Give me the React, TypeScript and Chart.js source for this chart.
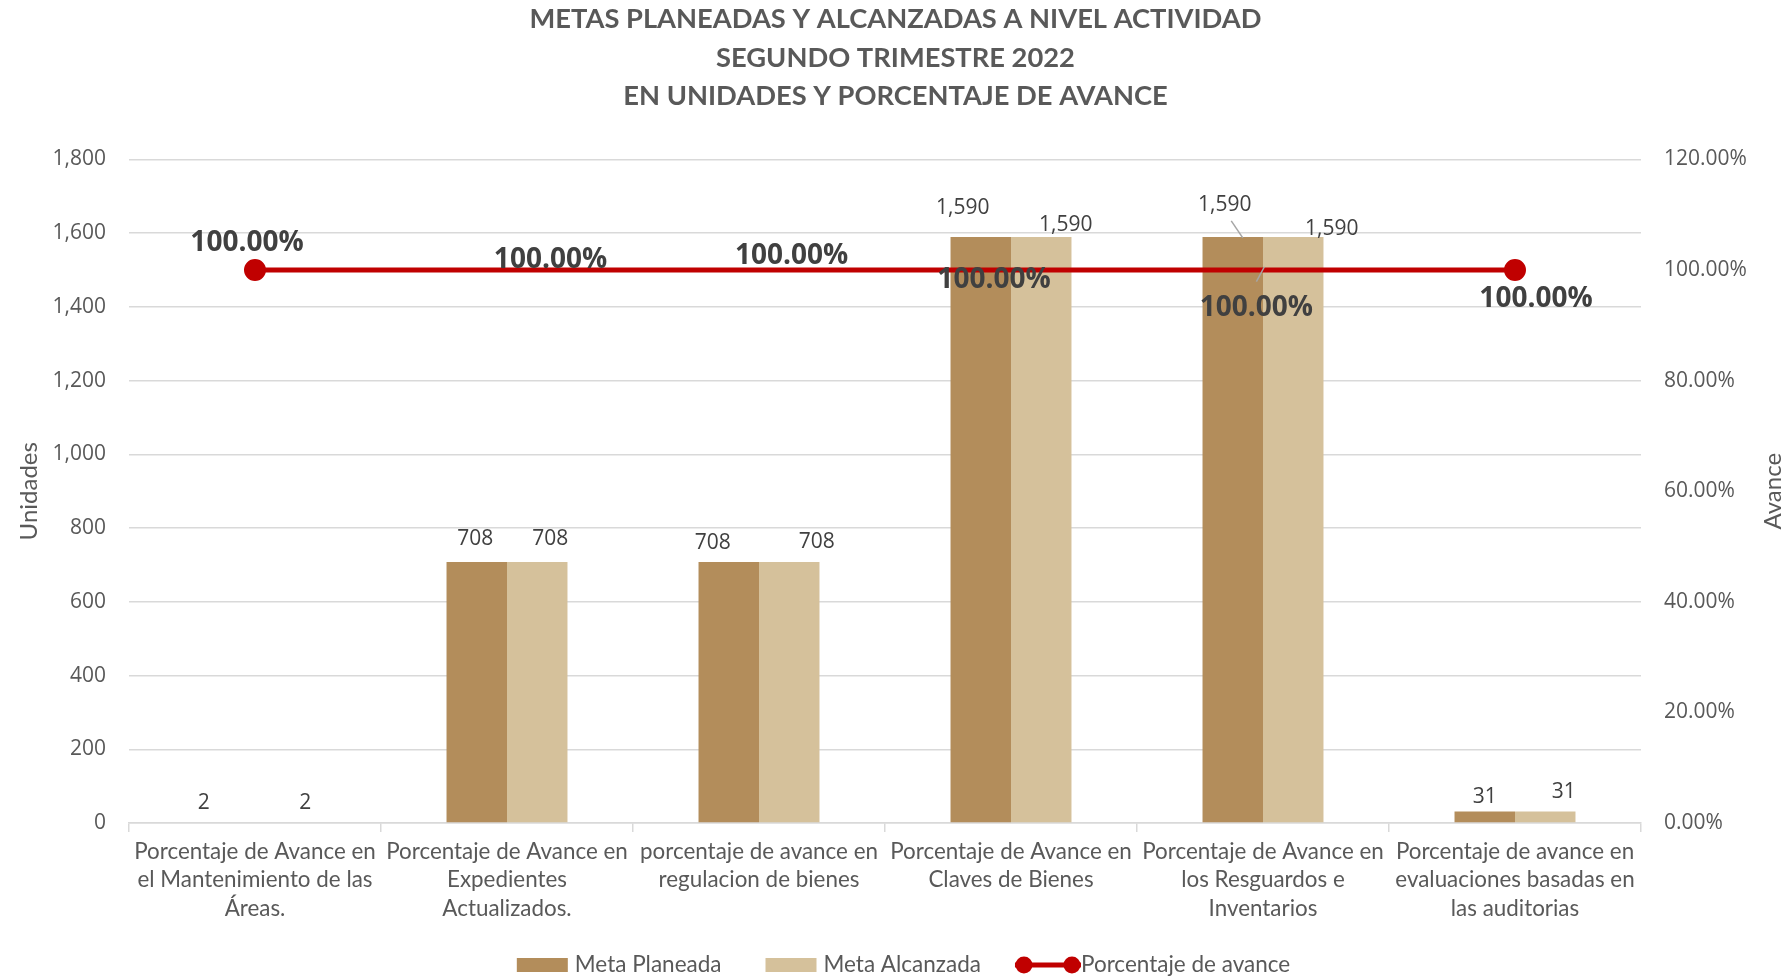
import React, { useEffect, useRef } from 'react';
import { Chart, registerables } from 'chart.js';

Chart.register(...registerables);

// ---------- DATA ----------
const categories: string[][] = [
  ['Porcentaje de Avance en', 'el Mantenimiento de las', 'Áreas.'],
  ['Porcentaje de Avance en', 'Expedientes', 'Actualizados.'],
  ['porcentaje de avance en', 'regulacion de bienes'],
  ['Porcentaje de Avance en', 'Claves de Bienes'],
  ['Porcentaje de Avance en', 'los Resguardos e', 'Inventarios'],
  ['Porcentaje de avance en', 'evaluaciones basadas en', 'las auditorias'],
];
const metaPlaneada = [2, 708, 708, 1590, 1590, 31];
const metaAlcanzada = [2, 708, 708, 1590, 1590, 31];
const porcentajeAvance = [100, 100, 100, 100, 100, 100];
const seriesNames = ['Meta Planeada', 'Meta Alcanzada', 'Porcentaje de avance'];
const titleLines = [
  'METAS PLANEADAS Y ALCANZADAS A NIVEL ACTIVIDAD',
  'SEGUNDO TRIMESTRE 2022',
  'EN UNIDADES Y PORCENTAJE DE AVANCE',
];
const leftAxisTitle = 'Unidades';
const rightAxisTitle = 'Avance';

// ---------- STYLE ----------
const COL_PLAN = '#B38D5B';
const COL_ALC = '#D5C19B';
const COL_LINE = '#C00000';
const TXT = '#595959';
const LABEL_TXT = '#404040';
const CAL = 'Lato, "Open Sans", sans-serif';
const SEG = '"Open Sans", "Noto Sans", sans-serif';

// label offsets (dx, dy) relative to the mark's anchor (style only)
const planOffsets = [[-21, -19], [-1.5, -23], [-16, -18.5], [-18, -28.5], [-8, -32], [0, -15]];
const alcOffsets = [[20, -19], [13, -23], [27.5, -19.5], [24.5, -11.5], [38.5, -8], [18.5, -19.5]];
const pctOffsets = [[-8, -27], [43.5, -10], [32.6, -13.6], [-17, 10.4], [-6.6, 38], [21, 29]];
// leader lines: [datasetIndex, category, x1, y1, x2, y2] relative to anchor
const leaders = [
  [0, 4, -1.5, -16, 10, 1],
  [2, 4, 1.4, -3.3, -6.6, 11.5],
];

const fmtInt = (v: number) => v.toLocaleString('en-US');

const labelsPlugin = {
  id: 'customLabels',
  afterDatasetsDraw(chart: any) {
    const ctx = chart.ctx;
    ctx.save();
    ctx.textAlign = 'center';
    ctx.textBaseline = 'middle';
    ctx.strokeStyle = '#A6A6A6';
    ctx.lineWidth = 1.5;
    leaders.forEach(([ds, i, x1, y1, x2, y2]) => {
      const el = chart.getDatasetMeta(ds).data[i];
      ctx.beginPath();
      ctx.moveTo(el.x + x1, el.y + y1);
      ctx.lineTo(el.x + x2, el.y + y2);
      ctx.stroke();
    });
    const barSets = [
      { idx: 0, vals: metaPlaneada, offs: planOffsets },
      { idx: 1, vals: metaAlcanzada, offs: alcOffsets },
    ];
    ctx.font = `21px ${SEG}`;
    ctx.fillStyle = LABEL_TXT;
    barSets.forEach(({ idx, vals, offs }) => {
      const meta = chart.getDatasetMeta(idx);
      meta.data.forEach((el: any, i: number) => {
        ctx.fillText(fmtInt(vals[i]), el.x + offs[i][0], el.y + offs[i][1]);
      });
    });
    ctx.font = `bold 28px ${SEG}`;
    ctx.fillStyle = LABEL_TXT;
    const lm = chart.getDatasetMeta(2);
    lm.data.forEach((el: any, i: number) => {
      ctx.fillText(porcentajeAvance[i].toFixed(2) + '%', el.x + pctOffsets[i][0], el.y + pctOffsets[i][1]);
    });
    ctx.restore();
  },
};

const extrasPlugin = {
  id: 'extras',
  afterDraw(chart: any) {
    const ctx = chart.ctx;
    const area = chart.chartArea;
    ctx.save();
    ctx.font = `24px ${CAL}`;
    ctx.fillStyle = TXT;
    ctx.textAlign = 'center';
    ctx.textBaseline = 'middle';
    ctx.translate(chart.width - 18, (area.top + area.bottom) / 2);
    ctx.rotate(-Math.PI / 2);
    ctx.fillText(rightAxisTitle, 0, 0);
    ctx.restore();

    // legend
    ctx.save();
    ctx.font = `22.5px ${CAL}`;
    ctx.textBaseline = 'middle';
    ctx.textAlign = 'left';
    const y = chart.height - 12;
    const boxW = 51, boxH = 14, gapText = 7, gapItem = 44, lineW = 66;
    const w0 = ctx.measureText(seriesNames[0]).width;
    const w1 = ctx.measureText(seriesNames[1]).width;
    const w2 = ctx.measureText(seriesNames[2]).width;
    const total = boxW + gapText + w0 + gapItem + boxW + gapText + w1 + 34 + lineW + w2;
    let x = chart.width / 2 + 8 - total / 2;
    ctx.fillStyle = COL_PLAN;
    ctx.fillRect(x, y - boxH / 2, boxW, boxH);
    x += boxW + gapText;
    ctx.fillStyle = TXT;
    ctx.fillText(seriesNames[0], x, y);
    x += w0 + gapItem;
    ctx.fillStyle = COL_ALC;
    ctx.fillRect(x, y - boxH / 2, boxW, boxH);
    x += boxW + gapText;
    ctx.fillStyle = TXT;
    ctx.fillText(seriesNames[1], x, y);
    x += w1 + 34;
    ctx.strokeStyle = COL_LINE;
    ctx.lineWidth = 5;
    ctx.beginPath();
    ctx.moveTo(x, y);
    ctx.lineTo(x + lineW, y);
    ctx.stroke();
    ctx.fillStyle = COL_LINE;
    [x + 9, x + lineW - 9].forEach((cx) => {
      ctx.beginPath();
      ctx.arc(cx, y, 8.5, 0, Math.PI * 2);
      ctx.fill();
    });
    x += lineW;
    ctx.fillStyle = TXT;
    ctx.fillText(seriesNames[2], x, y);
    ctx.restore();
  },
};

export default function App() {
  const ref = useRef<HTMLCanvasElement>(null);
  useEffect(() => {
    if (!ref.current) return;
    const chart = new Chart(ref.current, {
      type: 'bar',
      data: {
        labels: categories,
        datasets: [
          {
            type: 'bar',
            label: seriesNames[0],
            data: metaPlaneada,
            backgroundColor: COL_PLAN,
            yAxisID: 'y',
            order: 1,
            barPercentage: 1,
            categoryPercentage: 0.48,
          },
          {
            type: 'bar',
            label: seriesNames[1],
            data: metaAlcanzada,
            backgroundColor: COL_ALC,
            yAxisID: 'y',
            order: 1,
            barPercentage: 1,
            categoryPercentage: 0.48,
          },
          {
            type: 'line',
            label: seriesNames[2],
            data: porcentajeAvance,
            borderColor: COL_LINE,
            backgroundColor: COL_LINE,
            borderWidth: 5,
            pointRadius: [8.5, 0, 0, 0, 0, 8.5],
            pointHoverRadius: 0,
            pointBackgroundColor: COL_LINE,
            pointBorderColor: COL_LINE,
            yAxisID: 'y1',
            order: 0,
            tension: 0,
          } as any,
        ],
      },
      options: {
        responsive: false,
        animation: false,
        layout: { padding: { left: 0, right: 0, top: 0, bottom: 28 } },
        plugins: {
          legend: { display: false },
          tooltip: { enabled: false },
          title: {
            display: true,
            text: titleLines,
            color: TXT,
            font: { family: CAL, size: 27.3, weight: 'bold', lineHeight: 1.41 },
            padding: { top: 0, bottom: 44 },
          },
        },
        scales: {
          x: {
            offset: true,
            grid: {
              display: true,
              drawOnChartArea: false,
              drawTicks: true,
              tickLength: 9,
              color: '#D9D9D9',
              lineWidth: 1.5,
              offset: true,
            },
            border: { display: true, color: '#D9D9D9', width: 1.5 },
            ticks: {
              autoSkip: false,
              maxRotation: 0,
              minRotation: 0,
              padding: 5,
              color: TXT,
              font: { family: CAL, size: 22.4, lineHeight: 1.28 },
            },
            afterFit: (s: any) => {
              s.height = 126;
            },
          },
          y: {
            position: 'left',
            min: 0,
            max: 1800,
            ticks: {
              stepSize: 200,
              padding: 23,
              color: TXT,
              font: { family: SEG, size: 21 },
              callback: (v: any) => fmtInt(Number(v)),
            },
            grid: { color: '#D9D9D9', lineWidth: 1.5, drawTicks: false },
            border: { display: false },
            title: {
              display: true,
              text: leftAxisTitle,
              color: TXT,
              font: { family: CAL, size: 24 },
              padding: { top: 15, bottom: 0 },
            },
            afterFit: (s: any) => {
              s.width = 129;
            },
          },
          y1: {
            position: 'right',
            min: 0,
            max: 120,
            ticks: {
              stepSize: 20,
              padding: 23,
              color: TXT,
              font: { family: SEG, size: 21 },
              callback: (v: any) => Number(v).toFixed(2) + '%',
            },
            grid: { display: false, drawTicks: false },
            border: { display: false },
            afterFit: (s: any) => {
              s.width = 150;
            },
          },
        },
      } as any,
      plugins: [labelsPlugin, extrasPlugin],
    });
    return () => chart.destroy();
  }, []);

  return (
    <div style={{ position: 'absolute', left: 0, top: 0, width: 1791, height: 977, background: '#fff' }}>
      <canvas ref={ref} width={1791} height={977} style={{ display: 'block' }} />
    </div>
  );
}
